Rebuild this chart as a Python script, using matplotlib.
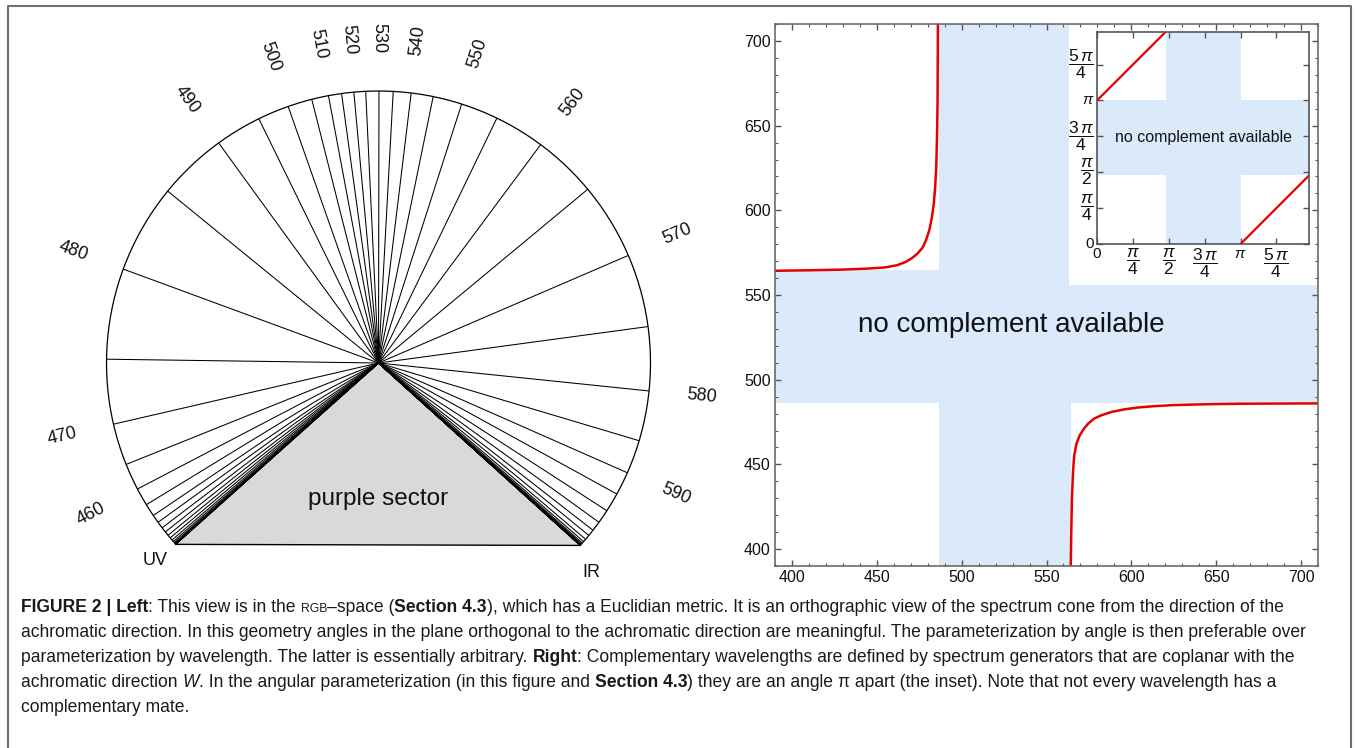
import numpy as np
import matplotlib
matplotlib.use("Agg")
import matplotlib.pyplot as plt
from matplotlib.collections import LineCollection
from matplotlib.patches import Polygon, Rectangle
from matplotlib.lines import Line2D
from matplotlib.ticker import MultipleLocator

plt.rcParams['font.family'] = ['Liberation Sans', 'DejaVu Sans']
plt.rcParams['mathtext.fontset'] = 'custom'
plt.rcParams['mathtext.rm'] = 'Liberation Sans'
plt.rcParams['mathtext.it'] = 'Liberation Sans:italic'
plt.rcParams['mathtext.bf'] = 'Liberation Sans:bold'

# ---------------- data ----------------
# left: direction (deg) of each spectrum generator, 5 nm apart
wavelengths = [380, 385, 390, 395, 400, 405, 410, 415, 420, 425,
               430, 435, 440, 445, 450, 455, 460, 465, 470, 475,
               480, 485, 490, 495, 500, 505, 510, 515, 520, 525,
               530, 535, 540, 545, 550, 555, 560, 565, 570, 575,
               580, 585, 590, 595, 600, 605, 610, 615, 620, 625,
               630, 635, 640, 645, 650, 655, 660, 665, 670, 675,
               680, 685, 690, 695, 700]
angles_deg = [221.82, 221.80, 221.77, 221.72, 221.65, 221.52, 221.32, 221.02, 220.60, 220.02,
              219.30, 218.40, 217.30, 215.85, 214.10, 211.40, 207.60, 201.90, 193.00, 179.20,
              159.80, 140.80, 126.00, 116.10, 109.40, 104.20, 100.60, 97.80, 95.20, 92.70,
              89.90, 86.90, 83.10, 78.40, 72.20, 64.20, 53.40, 39.70, 23.30, 7.70,
              -5.90, -16.60, -23.80, -28.80, -32.90, -35.85, -37.95, -39.35, -40.40, -41.05,
              -41.45, -41.70, -41.85, -41.95, -42.00, -42.04, -42.06, -42.08, -42.09, -42.10,
              -42.10, -42.11, -42.11, -42.12, -42.12]
label_wl = [460, 470, 480, 490, 500, 510, 520, 530, 540, 550, 560, 570, 580, 590]

# right: complementary wavelength
comp_left_x = [390, 410, 430, 445, 455, 462, 467, 471, 474, 477, 479, 481, 482.5,
               483.6, 484.4, 485.0, 485.3, 485.6, 485.8, 486.0]
comp_left_y = [564.3, 564.6, 565.0, 565.6, 566.3, 567.6, 569.5, 572.0, 574.5, 578.0, 582.4,
               588.5, 596.0, 604.0, 614.0, 625.0, 636.0, 650.0, 665.0, 710.0]
comp_right_x = [564.3, 564.6, 565.0, 565.6, 566.3, 567.6, 569.5, 572.0, 574.5, 578.0, 582.4,
                588.5, 596.0, 604.0, 614.0, 625.0, 636.0, 650.0, 665.0, 710.0]
comp_right_y = [390, 410, 430, 445, 455, 462, 467, 471, 474, 477, 479, 481, 482.5,
                483.6, 484.4, 485.0, 485.3, 485.6, 485.8, 486.0]
gap_wl = [486.5, 564.5]  # wavelengths with no complement

# inset: angular parameterization
theta_max = 4.64
inset_gap = [1.50, np.pi]
inset_seg1_x = [0.0, 1.50]
inset_seg1_y = [np.pi, 4.64]
inset_seg2_x = [np.pi, 4.64]
inset_seg2_y = [0.0, 1.50]
inset_ticks = [0, np.pi / 4, np.pi / 2, 3 * np.pi / 4, np.pi, 5 * np.pi / 4]
inset_ticklabels = ['0', r'$\dfrac{\pi}{4}$', r'$\dfrac{\pi}{2}$', r'$\dfrac{3\,\pi}{4}$',
                    r'$\pi$', r'$\dfrac{5\,\pi}{4}$']

# ---------------- figure ----------------
W, H = 1356, 748
fig = plt.figure(figsize=(W / 100, H / 100), dpi=100)
blue = '#dbeafb'

# frame around the figure panel
fig.add_artist(Line2D([8 / W, 8 / W, 1351 / W, 1351 / W], [0, 1 - 6 / H, 1 - 6 / H, 0],
                      transform=fig.transFigure, color='#707070', lw=1.5))

# ---- left panel (apex at origin, radius 1 = 272 px)
R = 272.0
cx, cy = 378.5, 363.0
axl = fig.add_axes([0, 1 - 600 / H, 760 / W, 600 / H])
axl.set_xlim(-cx / R, (760 - cx) / R)
axl.set_ylim((cy - 600) / R, cy / R)
axl.axis('off')

th = np.radians(angles_deg)
uv = (np.cos(th[0]), np.sin(th[0]))
ir = (np.cos(th[-1]), np.sin(th[-1]))
axl.add_patch(Polygon([(0, 0), uv, ir], closed=True, facecolor='#d9d9d9', edgecolor='none', zorder=1))
axl.plot([uv[0], ir[0]], [uv[1], ir[1]], color='black', lw=1.0, zorder=3)

segs = [[(0, 0), (np.cos(t), np.sin(t))] for t in th]
axl.add_collection(LineCollection(segs, colors='black', linewidths=0.75, zorder=2))

arc_t = np.linspace(th[-1], th[0], 400)
axl.plot(np.cos(arc_t), np.sin(arc_t), color='black', lw=0.9, zorder=3)

for wl in label_wl:
    a = angles_deg[wavelengths.index(wl)]
    rot = a - 180 if a > 89 else a
    r = 1.195
    axl.text(r * np.cos(np.radians(a)), r * np.sin(np.radians(a)), str(wl), fontsize=13,
             rotation=rot, rotation_mode='anchor', ha='center', va='center', color='#111111')

axl.text(uv[0] - 0.075, uv[1] - 0.06, 'UV', fontsize=13, ha='center', va='center', color='#111111')
axl.text(ir[0] + 0.04, ir[1] - 0.1, 'IR', fontsize=13, ha='center', va='center', color='#111111')
axl.text(0, -0.5, 'purple sector', fontsize=17.5, ha='center', va='center', color='#111111')

# ---- right panel
ax = fig.add_axes([775 / W, 1 - 566 / H, 543 / W, 542 / H])
ax.set_xlim(390, 710)
ax.set_ylim(390, 710)
ax.axvspan(gap_wl[0], gap_wl[1], color=blue, lw=0, zorder=0)
ax.axhspan(gap_wl[0], gap_wl[1], color=blue, lw=0, zorder=0)
# white background behind the inset
ax.add_patch(Rectangle(((1069 - 775) / 543, (566 - 285) / 542), 1, 1, transform=ax.transAxes,
                       facecolor='white', edgecolor='none', zorder=0.5))
ax.plot(comp_left_x, comp_left_y, color='#e60000', lw=1.8, zorder=2)
ax.plot(comp_right_x, comp_right_y, color='#e60000', lw=1.8, zorder=2)
ax.text(529, 532, 'no complement available', fontsize=20, ha='center', va='center', color='#111111')

ax.set_xticks([400, 450, 500, 550, 600, 650, 700])
ax.set_yticks([400, 450, 500, 550, 600, 650, 700])
ax.xaxis.set_minor_locator(MultipleLocator(10))
ax.yaxis.set_minor_locator(MultipleLocator(10))
ax.tick_params(which='both', direction='in', top=True, right=True, color='#555555',
               labelsize=11.5, labelcolor='#111111', pad=3)
ax.tick_params(which='major', length=4.5, width=1.0)
ax.tick_params(which='minor', length=2.5, width=0.8)
for s in ax.spines.values():
    s.set_color('#6b6b6b')
    s.set_linewidth(1.2)

# ---- inset
axi = fig.add_axes([1097 / W, 1 - 244 / H, 212 / W, 212 / H])
axi.set_xlim(0, theta_max)
axi.set_ylim(0, theta_max)
axi.axvspan(inset_gap[0], inset_gap[1], color=blue, lw=0, zorder=0)
axi.axhspan(inset_gap[0], inset_gap[1], color=blue, lw=0, zorder=0)
axi.plot(inset_seg1_x, inset_seg1_y, color='#e60000', lw=1.6, solid_capstyle='butt')
axi.plot(inset_seg2_x, inset_seg2_y, color='#e60000', lw=1.6, solid_capstyle='butt')
axi.text(sum(inset_gap) / 2, sum(inset_gap) / 2, 'no complement available', fontsize=11.5,
         ha='center', va='center', color='#111111')
axi.set_xticks(inset_ticks)
axi.set_xticklabels(inset_ticklabels)
axi.set_yticks(inset_ticks)
axi.set_yticklabels(inset_ticklabels)
axi.tick_params(direction='in', top=True, right=True, length=4, width=1.0, color='#555555',
                labelsize=11, labelcolor='#111111', pad=2)
for lab in axi.get_xticklabels() + axi.get_yticklabels():
    if 'dfrac' in lab.get_text():
        lab.set_fontsize(12.5)
for lab in axi.get_yticklabels():
    lab.set_va('center')
for s in axi.spines.values():
    s.set_color('#555555')
    s.set_linewidth(1.2)

# ---- caption
renderer = fig.canvas.get_renderer()


def text_width(s, kw):
    t = fig.text(0, 0, s, **kw)
    w = t.get_window_extent(renderer).width
    t.remove()
    return w


def style_kw(style, fs):
    kw = dict(fontsize=fs, color='#1a1a1a')
    if style == 'b':
        kw['fontweight'] = 'bold'
    elif style == 'i':
        kw['fontstyle'] = 'italic'
    elif style == 'sc':
        kw['fontsize'] = fs * 0.7
    return kw


def advance(s, kw):
    return text_width(s + '|', kw) - text_width('|', kw)


caption = [
    [("FIGURE 2 | Left", 'b'), (": This view is in the ", 'r'), ("RGB", 'sc'), ("\u2013space (", 'r'),
     ("Section 4.3", 'b'),
     ("), which has a Euclidian metric. It is an orthographic view of the spectrum cone from the direction of the", 'r')],
    [("achromatic direction. In this geometry angles in the plane orthogonal to the achromatic direction "
      "are meaningful. The parameterization by angle is then preferable over", 'r')],
    [("parameterization by wavelength. The latter is essentially arbitrary. ", 'r'), ("Right", 'b'),
     (": Complementary wavelengths are defined by spectrum generators that are coplanar with the", 'r')],
    [("achromatic direction ", 'r'), ("W", 'i'), (". In the angular parameterization (in this figure and ", 'r'),
     ("Section 4.3", 'b'), (") they are an angle \u03c0 apart (the inset). Note that not every wavelength has a", 'r')],
    [("complementary mate.", 'r')],
]

w10 = sum(advance(s, style_kw(st, 10)) for s, st in caption[0])
fs_cap = 10 * 1269 / w10

baselines = [612, 637, 662, 687, 712]
for segs_line, yb in zip(caption, baselines):
    x = 21.0
    for s, st in segs_line:
        kw = style_kw(st, fs_cap)
        fig.text(x / W, 1 - yb / H, s, ha='left', va='baseline', **kw)
        x += advance(s, kw)

fig.savefig('out.png', dpi=100)
plt.close(fig)
